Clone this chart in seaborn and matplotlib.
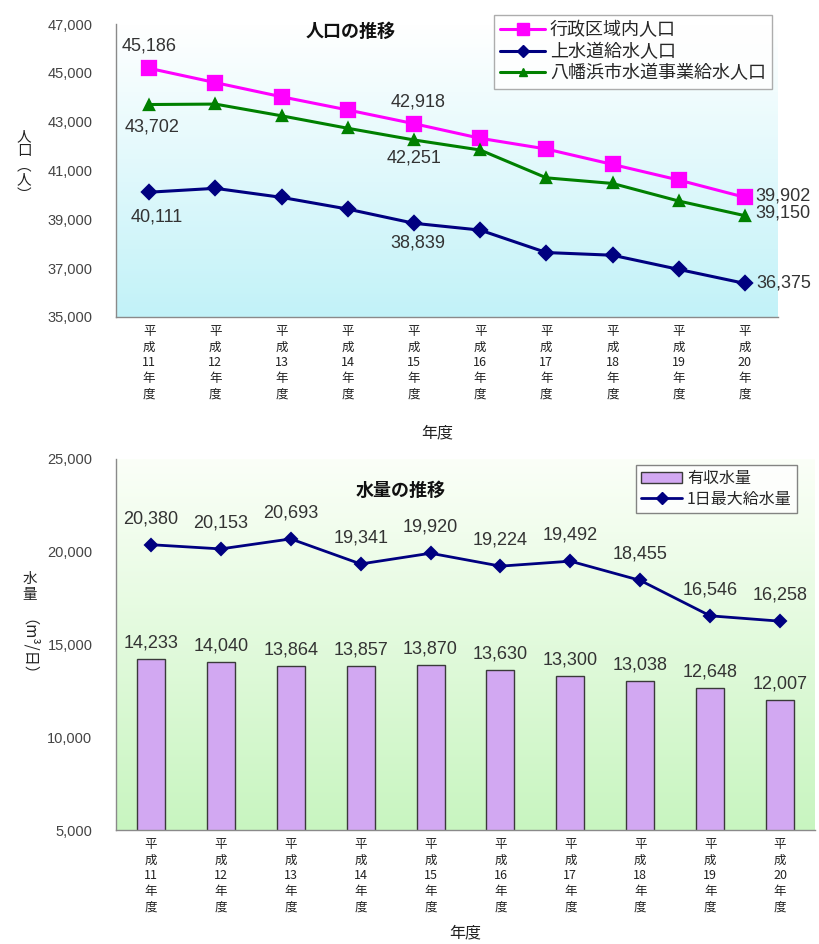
import numpy as np
import matplotlib
matplotlib.use("Agg")
import matplotlib.pyplot as plt
import seaborn as sns
from matplotlib.lines import Line2D
from matplotlib.patches import Patch
from matplotlib.colors import LinearSegmentedColormap
from matplotlib.ticker import FuncFormatter

# ---------------- data ----------------
years = ["11", "12", "13", "14", "15", "16", "17", "18", "19", "20"]
categories = [f"平\n成\n{y}\n年\n度" for y in years]

pop_admin = [45186, 44600, 44020, 43480, 42918, 42320, 41880, 41250, 40610, 39902]
pop_city = [43702, 43720, 43240, 42730, 42251, 41840, 40700, 40470, 39750, 39150]
pop_upper = [40111, 40270, 39900, 39420, 38839, 38560, 37640, 37530, 36950, 36375]

water_billed = [14233, 14040, 13864, 13857, 13870, 13630, 13300, 13038, 12648, 12007]
water_max = [20380, 20153, 20693, 19341, 19920, 19224, 19492, 18455, 16546, 16258]

top_labels = ["行政区域内人口", "上水道給水人口", "八幡浜市水道事業給水人口"]
bottom_labels = ["有収水量", "1日最大給水量"]

# ---------------- style ----------------
sns.set_theme(style="white")
plt.rcParams['font.family'] = ['Noto Sans CJK JP', 'DejaVu Sans']
NUMFONT = ['Liberation Sans', 'DejaVu Sans']

PINK = "#ff00ff"
NAVY = "#000080"
GREEN = "#008000"
BAR = "#d2a8f2"
TXT = "#333333"

fig = plt.figure(figsize=(8.19, 9.44), dpi=100)
ax1 = fig.add_axes([116/819, 1-317/944, 662/819, 293/944])
ax2 = fig.add_axes([116/819, 1-830/944, 699/819, 371/944])


def gradient(ax, top, bottom, ylim):
    cmap = LinearSegmentedColormap.from_list("g", [bottom, top])
    ax.imshow(np.linspace(0, 1, 256).reshape(-1, 1), extent=[-0.5, 9.5, ylim[0], ylim[1]],
              origin="lower", cmap=cmap, aspect="auto", zorder=0)


# ---------------- top chart ----------------
ylim1 = (35000, 47000)
gradient(ax1, "#ffffff", "#c2f2f8", ylim1)

sns.pointplot(x=categories, y=pop_admin, ax=ax1, color=PINK, markers="s", errorbar=None,
              markersize=10, linewidth=2.2, zorder=3)
sns.pointplot(x=categories, y=pop_upper, ax=ax1, color=NAVY, markers="D", errorbar=None,
              markersize=7, linewidth=2.2, zorder=3)
sns.pointplot(x=categories, y=pop_city, ax=ax1, color=GREEN, markers="^", errorbar=None,
              markersize=7, linewidth=2.2, zorder=3)

ax1.set_xlim(-0.5, 9.5)
ax1.set_ylim(*ylim1)
ax1.set_yticks(range(35000, 47001, 2000))

# data labels (offset pixels)
label_spec1 = [
    (pop_admin, [(0, (0, 22), "center"), (4, (4, 22), "center"), (9, (10, 1), "left")]),
    (pop_city, [(0, (3, -22), "center"), (4, (0, -18), "center"), (9, (10, 3), "left")]),
    (pop_upper, [(0, (8, -25), "center"), (4, (4, -20), "center"), (9, (11, 0), "left")]),
]
for series, specs in label_spec1:
    for i, off, ha in specs:
        ax1.annotate(f"{series[i]:,}", xy=(i, series[i]), xytext=off, textcoords="offset pixels",
                     ha=ha, va="center", fontsize=13, color=TXT, family=NUMFONT, zorder=5)

fig.text(351/819, 1-31/944, "人口の推移", ha="center", va="center",
         fontsize=13, color="#111111", fontweight="bold")

h1 = [Line2D([], [], color=PINK, marker="s", markersize=8, linewidth=2.2),
      Line2D([], [], color=NAVY, marker="D", markersize=6, linewidth=2.2),
      Line2D([], [], color=GREEN, marker="^", markersize=6, linewidth=2.2)]
leg1 = fig.legend(h1, top_labels, loc="upper left", bbox_to_anchor=(494/819, 1-15/944),
                  fontsize=13, frameon=True, fancybox=False, borderpad=0.35, labelspacing=0.2,
                  handlelength=2.5, handletextpad=0.25, borderaxespad=0)
leg1.get_frame().set_edgecolor("#999999")
leg1.get_frame().set_linewidth(1.0)

# ---------------- bottom chart ----------------
ylim2 = (5000, 25000)
gradient(ax2, "#fbfff8", "#c8f5c0", ylim2)

sns.barplot(x=categories, y=water_billed, ax=ax2, color=BAR, saturation=1, width=0.4,
            edgecolor="#3a3a3a", linewidth=1.0, zorder=2)
sns.pointplot(x=categories, y=water_max, ax=ax2, color=NAVY, markers="D", errorbar=None,
              markersize=6.5, linewidth=2.0, zorder=3)

ax2.set_xlim(-0.5, 9.5)
ax2.set_ylim(*ylim2)
ax2.set_yticks(range(5000, 25001, 5000))

for i, v in enumerate(water_max):
    ax2.annotate(f"{v:,}", xy=(i, v), xytext=(0, 26), textcoords="offset pixels",
                 ha="center", va="center", fontsize=13, color=TXT, family=NUMFONT, zorder=5)
for i, v in enumerate(water_billed):
    ax2.annotate(f"{v:,}", xy=(i, v), xytext=(0, 16), textcoords="offset pixels",
                 ha="center", va="center", fontsize=13, color=TXT, family=NUMFONT, zorder=5)

fig.text(401/819, 1-490/944, "水量の推移", ha="center", va="center",
         fontsize=13, color="#111111", fontweight="bold")

h2 = [Patch(facecolor=BAR, edgecolor="#3a3a3a", linewidth=1.0),
      Line2D([], [], color=NAVY, marker="D", markersize=6, linewidth=2.0)]
leg2 = fig.legend(h2, bottom_labels, loc="upper left", bbox_to_anchor=(636/819, 1-465/944),
                  fontsize=11.5, frameon=True, fancybox=False, borderpad=0.3, labelspacing=0.25,
                  handlelength=2.6, handletextpad=0.3, borderaxespad=0)
leg2.get_frame().set_edgecolor("#666666")
leg2.get_frame().set_linewidth(1.0)

# ---------------- axes styling ----------------
fmt = FuncFormatter(lambda v, p: f"{int(v):,}")
for ax in (ax1, ax2):
    ax.grid(False)
    for s in ("top", "right"):
        ax.spines[s].set_visible(False)
    for s in ("left", "bottom"):
        ax.spines[s].set_visible(True)
        ax.spines[s].set_color("#8a8a8a")
        ax.spines[s].set_linewidth(1.0)
    ax.yaxis.set_major_formatter(fmt)
    ax.set_xticks(range(len(categories)))
    ax.set_xticklabels(categories, fontsize=9, linespacing=1.25, color="#222222")
    ax.set_xticks(np.arange(0.5, 9.5, 1), minor=True)
    ax.tick_params(axis="x", which="major", length=0, pad=6)
    ax.tick_params(axis="x", which="minor", direction="in", length=4, color="#8a8a8a", width=1)
    ax.tick_params(axis="y", which="major", direction="out", length=3, color="#8a8a8a",
                   labelsize=10.5, labelcolor="#444444", pad=14)
    for t in ax.get_yticklabels():
        t.set_fontfamily(NUMFONT)
    ax.set_xlabel("")
    ax.set_ylabel("")

# axis titles
fig.text(437/819, 1-433/944, "年度", ha="center", va="center", fontsize=11.5, color="#222222")
fig.text(465/819, 1-933/944, "年度", ha="center", va="center", fontsize=11.5, color="#222222")
fig.text(24/819, 1-166/944, "人\n口\n︵\n人\n︶", ha="center", va="center", fontsize=10.5,
         linespacing=1.05, color="#222222")
fig.text(30/819, 1-587/944, "水\n量", ha="center", va="center", fontsize=10.5,
         linespacing=1.1, color="#222222")
fig.text(20/819, 1-655/944, "（m³/日）", ha="center", va="center", fontsize=11,
         rotation=-90, rotation_mode="anchor", color="#222222")

fig.savefig("out.png", dpi=100, facecolor="white")
